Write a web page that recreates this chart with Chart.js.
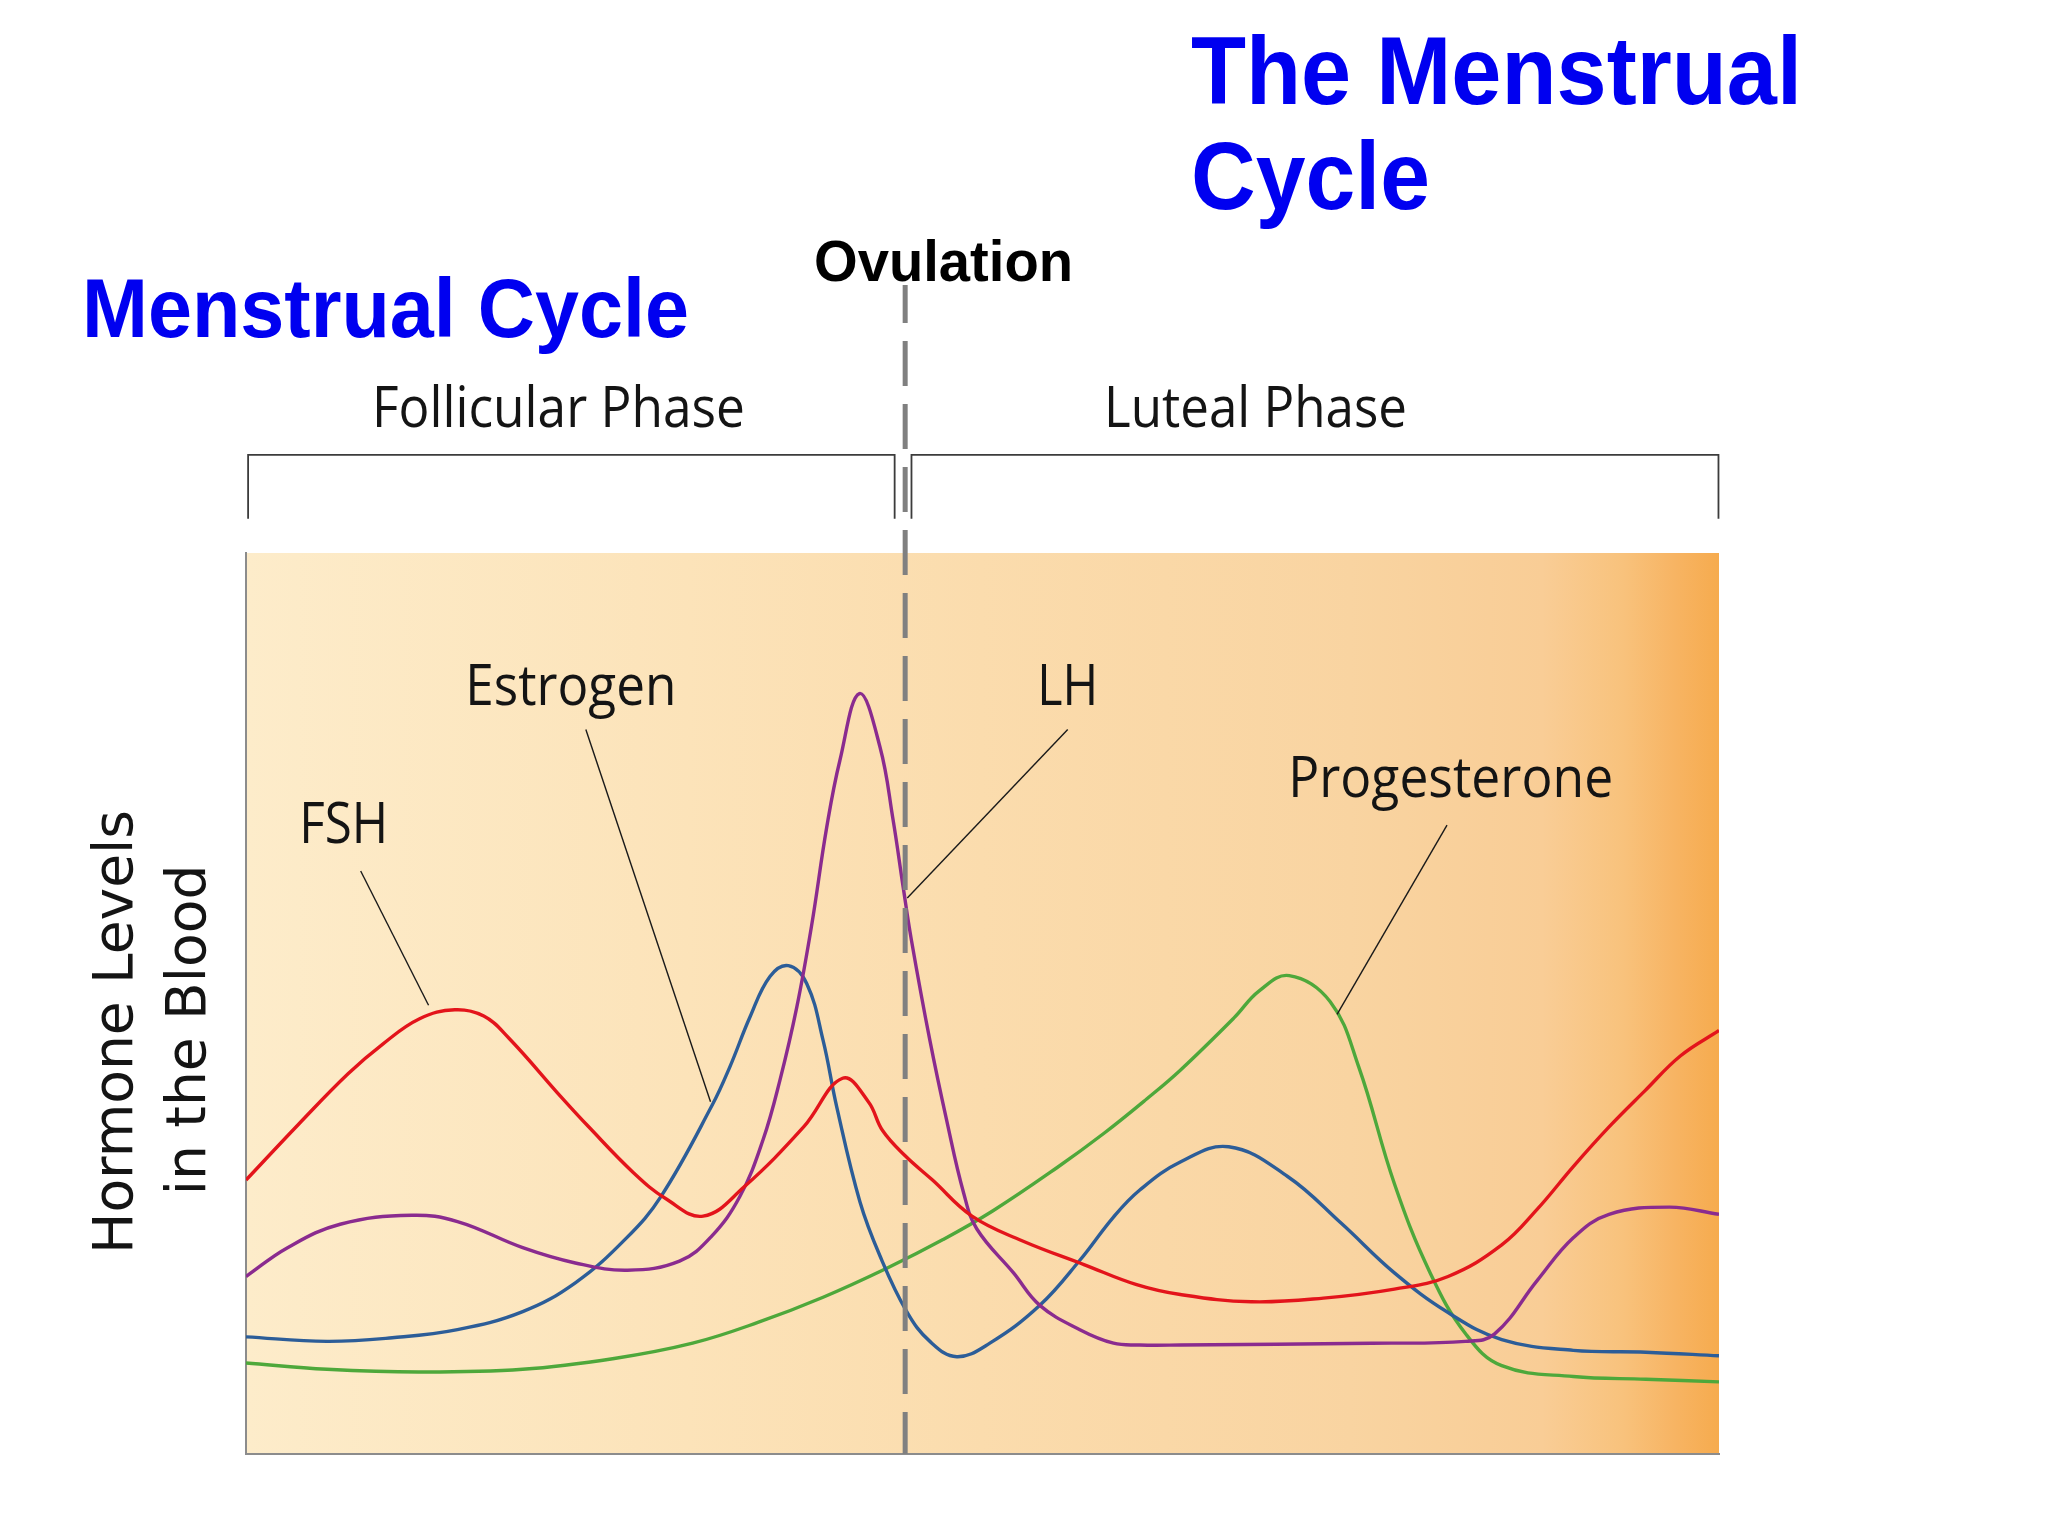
<!DOCTYPE html>
<html>
<head>
<meta charset="utf-8">
<script src="https://cdn.jsdelivr.net/npm/chart.js@4.4.1/dist/chart.umd.min.js"></script>
<style>
html,body{margin:0;padding:0;background:#ffffff;}
#wrap{width:2048px;height:1536px;position:relative;overflow:hidden;}
</style>
</head>
<body>
<div id="wrap"><canvas id="c" width="2048" height="1536"></canvas></div>
<script>
// ---- Data (day of cycle vs. relative hormone level) ----
const fshDays   = [0,1.00,1.94,2.60,3.30,3.97,4.52,4.99,6.01,6.50,7.37,7.99,8.69,9.46,10.60,11.34,11.83,12.10,12.53,13.05,13.80,14.74,15.94,16.93,17.76,19.11,20.48,21.83,22.85,23.87,24.55,25.23,25.91,26.59,27.27,28];
const fshLevels = [30.4,36.6,42.2,45.5,48.3,49.3,48.6,46.2,39.5,36.4,31.2,28.3,26.4,29.6,36.3,41.7,39.1,35.9,33.1,30.4,26.4,23.7,21.0,18.8,17.7,16.9,17.3,18.3,19.7,23.2,27.2,31.9,36.3,40.3,44.2,47.0];

const lhDays   = [0,0.79,1.79,3.15,4.02,5.26,6.26,7.25,8.24,8.84,9.39,9.83,10.15,10.47,10.75,11.04,11.29,11.66,12.05,12.30,12.49,12.65,13.00,13.32,13.64,13.89,14.59,15.09,15.85,16.49,16.99,17.76,21.40,23.18,23.73,24.55,25.23,25.91,27.06,28];
const lhLevels = [19.7,22.9,25.5,26.5,25.8,22.9,21.2,20.4,21.4,24.1,28.6,34.9,41.5,49.6,58.6,69.6,77.0,84.4,78.5,70.4,63.0,57.0,45.9,37.0,29.0,25.0,20.1,16.5,13.8,12.3,12.1,12.1,12.3,12.5,13.3,19.3,24.0,26.6,27.4,26.6];

const estrogenDays   = [0,1.54,2.78,4.02,5.26,6.26,7.22,7.89,8.86,9.20,9.58,9.96,10.31,10.66,10.97,11.23,11.67,12.05,12.56,13.00,13.51,14.14,15.09,15.85,16.49,16.99,17.76,18.68,19.80,20.82,21.83,22.85,23.87,25.23,26.61,28];
const estrogenLevels = [13.0,12.5,12.9,13.8,15.8,19.0,23.9,28.6,38.7,43.0,48.5,53.0,54.2,52.2,45.9,38.5,28.0,22.0,15.8,12.5,10.8,12.3,16.5,21.5,26.3,29.3,32.4,34.1,30.8,25.6,20.1,15.7,12.7,11.5,11.3,10.9];

const progDays   = [0,1.54,3.28,5.26,7.00,8.49,9.73,10.97,12.21,13.25,14.20,15.42,16.31,17.12,17.76,18.78,19.26,19.83,20.61,21.15,21.83,22.51,23.19,23.87,25.23,26.61,28];
const progLevels = [10.1,9.4,9.1,9.4,10.6,12.3,14.6,17.4,20.7,23.8,27.0,31.8,35.6,39.4,42.6,48.4,51.4,53.1,50.2,43.0,30.0,20.1,13.3,9.8,8.6,8.3,8.0];

const seriesNames  = ['FSH','LH','Estrogen','Progesterone'];
const seriesColors = ['#e3141b','#8a2b8f','#2c5d98','#4ea83b'];
const ovulationDay = 12.53;
const phases = [
  {name:'Follicular Phase', from:0.04, to:12.33},
  {name:'Luteal Phase', from:12.65, to:27.99}
];

// label annotations: text position (day, level) and leader line (day, level) -> (day, level)
const labels = [
  {text:'FSH',          x:1.01,  y:67.8, w:89,  line:[2.18,64.7,3.47,49.8]},
  {text:'Estrogen',     x:4.17,  y:83.1, w:211, line:[6.46,80.4,8.83,39.1]},
  {text:'LH',           x:15.04, y:83.1, w:61,  line:[15.62,80.4,12.57,61.7]},
  {text:'Progesterone', x:19.81, y:72.9, w:325, line:[22.83,69.8,20.74,48.8]}
];

const toPts = (d, v) => d.map((x, i) => ({x: x, y: v[i]}));

function fitText(ctx, text, x, y, font, width, color) {
  ctx.save();
  ctx.font = font;
  ctx.textAlign = 'left';
  ctx.textBaseline = 'alphabetic';
  const w = ctx.measureText(text).width;
  ctx.translate(x, y);
  ctx.scale(width / w, 1);
  ctx.fillStyle = color;
  ctx.fillText(text, 0, 0);
  ctx.restore();
}

const bgPlugin = {
  id: 'bg',
  beforeDraw(chart) {
    const {ctx, chartArea: a} = chart;
    const g = ctx.createLinearGradient(a.left, 0, a.right, 0);
    g.addColorStop(0.00, '#fdecca');
    g.addColorStop(0.30, '#fce3b9');
    g.addColorStop(0.50, '#fbdcad');
    g.addColorStop(0.75, '#f9d4a1');
    g.addColorStop(0.88, '#f9cd96');
    g.addColorStop(0.935, '#f8c27c');
    g.addColorStop(0.97, '#f7b463');
    g.addColorStop(1.00, '#f6ab4e');
    ctx.save();
    ctx.fillStyle = g;
    ctx.fillRect(a.left, a.top, a.right - a.left, a.bottom - a.top);
    ctx.restore();
  }
};

const overlayPlugin = {
  id: 'overlay',
  afterDatasetsDraw(chart) {
    const {ctx, chartArea: a} = chart;
    const xs = chart.scales.x, ys = chart.scales.y;
    const px = v => xs.getPixelForValue(v), py = v => ys.getPixelForValue(v);

    // phase brackets
    ctx.save();
    ctx.strokeStyle = '#3c3c3c';
    ctx.lineWidth = 1.8;
    const bTop = py(110.9), bBot = py(103.8);
    phases.forEach(p => {
      ctx.beginPath();
      ctx.moveTo(px(p.from), bBot);
      ctx.lineTo(px(p.from), bTop);
      ctx.lineTo(px(p.to), bTop);
      ctx.lineTo(px(p.to), bBot);
      ctx.stroke();
    });
    ctx.restore();

    // ovulation dashed line
    ctx.save();
    ctx.strokeStyle = '#808080';
    ctx.lineWidth = 5;
    ctx.setLineDash([45, 18]);
    ctx.lineDashOffset = 7;
    ctx.beginPath();
    ctx.moveTo(px(ovulationDay), 285);
    ctx.lineTo(px(ovulationDay), a.bottom);
    ctx.stroke();
    ctx.restore();

    // leader lines and labels
    ctx.save();
    ctx.strokeStyle = '#1a1a1a';
    ctx.lineWidth = 1.4;
    labels.forEach(l => {
      ctx.beginPath();
      ctx.moveTo(px(l.line[0]), py(l.line[1]));
      ctx.lineTo(px(l.line[2]), py(l.line[3]));
      ctx.stroke();
      fitText(ctx, l.text, px(l.x), py(l.y), '57px "Open Sans", "Noto Sans", sans-serif', l.w, '#141414');
    });
    ctx.restore();

    // phase names
    fitText(ctx, phases[0].name, 372, 427, '57px "Open Sans", "Noto Sans", sans-serif', 373, '#141414');
    fitText(ctx, phases[1].name, 1104, 427, '57px "Open Sans", "Noto Sans", sans-serif', 303, '#141414');

    // titles
    fitText(ctx, 'The Menstrual', 1191, 104, 'bold 96px "Liberation Sans", Arial, sans-serif', 611, '#0000f0');
    fitText(ctx, 'Cycle', 1191, 209, 'bold 96px "Liberation Sans", Arial, sans-serif', 239, '#0000f0');
    fitText(ctx, 'Menstrual Cycle', 82, 337, 'bold 84px "Liberation Sans", Arial, sans-serif', 607, '#0000f0');
    fitText(ctx, 'Ovulation', 814, 281, 'bold 58px "Liberation Sans", Arial, sans-serif', 259, '#000000');

    // y-axis title (rotated)
    ctx.save();
    ctx.fillStyle = '#141414';
    ctx.font = '55px "DejaVu Sans", Verdana, sans-serif';
    ctx.textAlign = 'center';
    ctx.textBaseline = 'alphabetic';
    ctx.translate(132, 1032);
    ctx.rotate(-Math.PI / 2);
    ctx.fillText('Hormone Levels', 0, 0);
    ctx.restore();
    ctx.save();
    ctx.fillStyle = '#141414';
    ctx.font = '55px "DejaVu Sans", Verdana, sans-serif';
    ctx.textAlign = 'center';
    ctx.textBaseline = 'alphabetic';
    ctx.translate(205, 1030);
    ctx.rotate(-Math.PI / 2);
    ctx.fillText('in the Blood', 0, 0);
    ctx.restore();
  }
};

const allData = [
  toPts(fshDays, fshLevels),
  toPts(lhDays, lhLevels),
  toPts(estrogenDays, estrogenLevels),
  toPts(progDays, progLevels)
];

new Chart(document.getElementById('c').getContext('2d'), {
  type: 'line',
  data: {
    datasets: seriesNames.map((n, i) => ({
      label: n,
      data: allData[i],
      borderColor: seriesColors[i],
      borderWidth: 3.4,
      pointRadius: 0,
      fill: false,
      tension: 0.4
    }))
  },
  options: {
    responsive: false,
    animation: false,
    devicePixelRatio: 1,
    layout: {padding: {left: 246, right: 329, top: 553, bottom: 82}},
    plugins: {legend: {display: false}, tooltip: {enabled: false}, title: {display: false}},
    scales: {
      x: {
        type: 'linear', min: 0, max: 28,
        grid: {display: false}, ticks: {display: false},
        border: {display: true, color: '#8c8c8c', width: 2},
        afterFit(s) { s.height = 0; }
      },
      y: {
        type: 'linear', min: 0, max: 100,
        grid: {display: false}, ticks: {display: false},
        border: {display: true, color: '#8c8c8c', width: 2},
        afterFit(s) { s.width = 0; }
      }
    }
  },
  plugins: [bgPlugin, overlayPlugin]
});
</script>
</body>
</html>
